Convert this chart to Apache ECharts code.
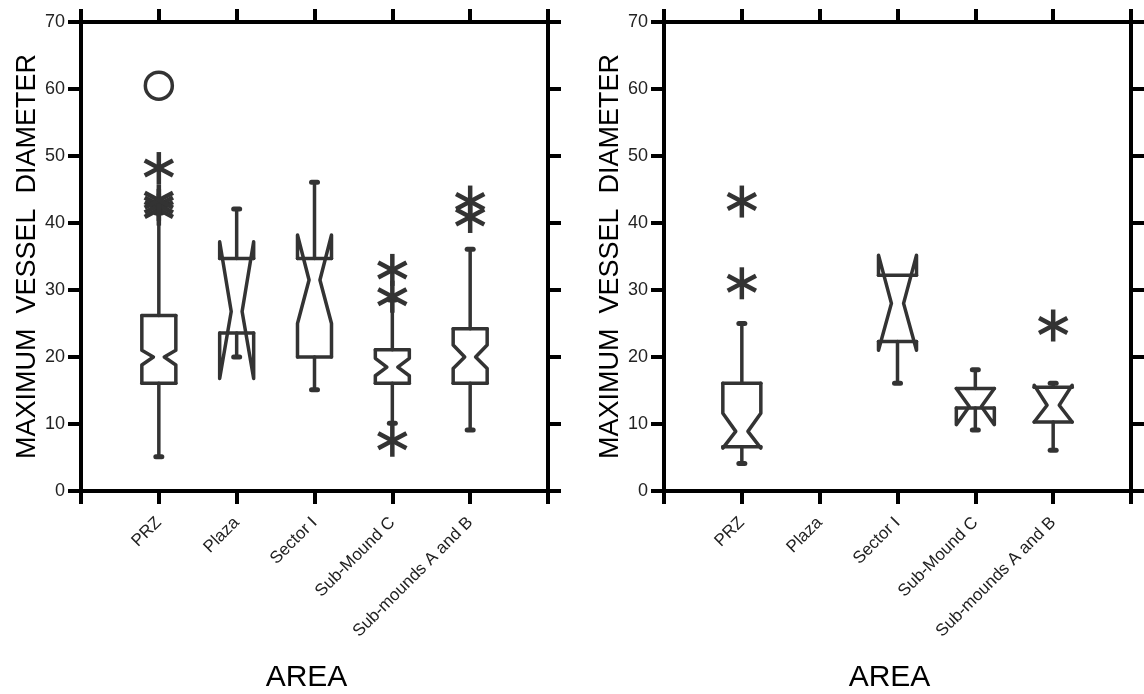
<!DOCTYPE html>
<html>
<head>
<meta charset="utf-8">
<title>Maximum vessel diameter by area</title>
<script src="https://cdn.jsdelivr.net/npm/echarts@6/dist/echarts.min.js"></script>
<style>
  html, body { margin: 0; padding: 0; background: #fff; }
  #chart { width: 1144px; height: 694px; }
</style>
</head>
<body>
<div id="chart"></div>
<script>
// Areas along the x axis (positions 1..5; 0 and 6 are empty margins)
const categories = ['PRZ', 'Plaza', 'Sector I', 'Sub-Mound C', 'Sub-mounds A and B'];
const yMin = 0, yMax = 70, yStep = 10;

// Left panel: notched box statistics per area
const leftWhiskerLow  = [5.1, 20.0, 15.1, 10.1, 9.1];
const leftQ1          = [16.1, 23.6, 20.0, 16.1, 16.1];
const leftNotchLow    = [18.8, 16.8, 25.0, 17.2, 18.3];
const leftMedian      = [20.0, 26.8, 31.5, 18.5, 20.0];
const leftNotchHigh   = [21.0, 37.2, 38.2, 19.8, 21.8];
const leftQ3          = [26.2, 34.7, 34.7, 21.1, 24.2];
const leftWhiskerHigh = [41.5, 42.1, 46.1, 28.5, 36.1];
const leftOutliers    = [[1, 42.0], [1, 42.7], [1, 43.4], [1, 48.2], [4, 33.0], [4, 29.0], [4, 7.5], [5, 40.9], [5, 43.2]];
const leftFarOutliers = [[1, 60.5]];

// Right panel: notched box statistics per area (no Plaza data)
const rightWhiskerLow  = [4.1, null, 16.1, 9.1, 6.1];
const rightQ1          = [6.6, null, 22.3, 12.4, 10.3];
const rightNotchLow    = [6.4, null, 21.0, 9.9, 10.3];
const rightMedian      = [8.9, null, 28.0, 12.6, 12.8];
const rightNotchHigh   = [11.6, null, 35.2, 15.3, 15.8];
const rightQ3          = [16.1, null, 32.2, 15.3, 15.5];
const rightWhiskerHigh = [25.0, null, 32.2, 18.1, 16.1];
const rightOutliers    = [[1, 43.2], [1, 31.0], [5, 24.7]];
const rightFarOutliers = [];

const INK = '#333333';
const AXIS = '#000000';
const SANS = 'Liberation Sans, Arial, sans-serif';

function boxRows(wLo, q1, nLo, med, nHi, q3, wHi) {
  const rows = [];
  for (let i = 0; i < categories.length; i++) {
    if (med[i] == null) continue;
    rows.push([i + 1, wLo[i], q1[i], nLo[i], med[i], nHi[i], q3[i], wHi[i]]);
  }
  return rows;
}

// Notched box: box edges, notch outline, whiskers with round caps
function notchedBox(halfW) {
  return function (params, api) {
    const x = api.value(0);
    const px = api.coord([x, 0])[0];
    const py = d => api.coord([x, api.value(d)])[1];
    const yWLo = py(1), yQ1 = py(2), yNLo = py(3), yMed = py(4), yNHi = py(5), yQ3 = py(6), yWHi = py(7);
    const L = px - halfW, R = px + halfW;
    const waist = halfW * 0.32;
    const cL = px - waist, cR = px + waist;
    const st = { stroke: INK, lineWidth: 3.5, fill: 'none', lineJoin: 'round', lineCap: 'round' };
    const kids = [
      { type: 'polyline', shape: { points: [[L, yQ3], [L, yNHi], [cL, yMed], [L, yNLo], [L, yQ1]] }, style: st },
      { type: 'polyline', shape: { points: [[R, yQ3], [R, yNHi], [cR, yMed], [R, yNLo], [R, yQ1]] }, style: st },
      { type: 'line', shape: { x1: L, y1: yQ3, x2: R, y2: yQ3 }, style: st },
      { type: 'line', shape: { x1: L, y1: yQ1, x2: R, y2: yQ1 }, style: st }
    ];
    const capSt = { stroke: INK, lineWidth: 5, lineCap: 'round' };
    if (api.value(7) > api.value(6)) {
      kids.push({ type: 'line', shape: { x1: px, y1: yQ3, x2: px, y2: yWHi }, style: st });
      kids.push({ type: 'line', shape: { x1: px - 3, y1: yWHi, x2: px + 3, y2: yWHi }, style: capSt });
    }
    if (api.value(1) < api.value(2)) {
      kids.push({ type: 'line', shape: { x1: px, y1: yQ1, x2: px, y2: yWLo }, style: st });
      kids.push({ type: 'line', shape: { x1: px - 3, y1: yWLo, x2: px + 3, y2: yWLo }, style: capSt });
    }
    return { type: 'group', children: kids };
  };
}

// Outside values drawn as six-armed asterisks
function asterisk(params, api) {
  const c = api.coord([api.value(0), api.value(1)]);
  const r = 16;
  const kids = [90, 28, -28].map(a => {
    const rad = a * Math.PI / 180;
    const dx = r * Math.cos(rad), dy = r * Math.sin(rad);
    return { type: 'line', shape: { x1: c[0] - dx, y1: c[1] + dy, x2: c[0] + dx, y2: c[1] - dy },
             style: { stroke: INK, lineWidth: 4.5, lineCap: 'butt' } };
  });
  return { type: 'group', children: kids };
}

// Far outside values drawn as open circles
function ring(params, api) {
  const c = api.coord([api.value(0), api.value(1)]);
  return { type: 'circle', shape: { cx: c[0], cy: c[1], r: 13.5 },
           style: { stroke: INK, lineWidth: 3.5, fill: 'none' } };
}

const tickStyle = { lineStyle: { color: AXIS, width: 4 } };

function bottomAxis(grid) {
  return {
    type: 'value', gridIndex: grid, position: 'bottom', min: 0, max: 6, interval: 1,
    axisLine: { onZero: false, lineStyle: { color: AXIS, width: 4 } },
    axisTick: Object.assign({ inside: false, length: 13 }, tickStyle),
    axisLabel: {
      rotate: 45, margin: 29, fontSize: 17, color: '#222', fontFamily: SANS,
      padding: [31, 0, 0, 0],
      formatter: v => categories[v - 1] || ''
    },
    splitLine: { show: false },
    name: 'AREA', nameLocation: 'middle', nameGap: 172,
    nameTextStyle: { fontSize: 30, color: '#000', fontFamily: SANS, padding: [0, 16, 0, 0] }
  };
}
function topAxis(grid) {
  return {
    type: 'value', gridIndex: grid, position: 'top', min: 0, max: 6, interval: 1,
    axisLine: { onZero: false, lineStyle: { color: AXIS, width: 4 } },
    axisTick: Object.assign({ inside: false, length: 13 }, tickStyle),
    axisLabel: { show: false }, splitLine: { show: false }
  };
}
function leftAxis(grid) {
  return {
    type: 'value', gridIndex: grid, position: 'left', min: yMin, max: yMax, interval: yStep,
    axisLine: { show: true, onZero: false, lineStyle: { color: AXIS, width: 4 } },
    axisTick: Object.assign({ show: true, inside: false, length: 13 }, tickStyle),
    axisLabel: { margin: 16, fontSize: 18, color: '#222', fontFamily: SANS },
    splitLine: { show: false },
    name: 'MAXIMUM  VESSEL  DIAMETER', nameLocation: 'middle', nameGap: 35,
    nameTextStyle: { fontSize: 27, color: '#000', fontFamily: SANS }
  };
}
function rightAxis(grid) {
  return {
    type: 'value', gridIndex: grid, position: 'right', min: yMin, max: yMax, interval: yStep,
    axisLine: { show: true, onZero: false, lineStyle: { color: AXIS, width: 4 } },
    axisTick: Object.assign({ show: true, inside: false, length: 13 }, tickStyle),
    axisLabel: { show: false }, splitLine: { show: false }
  };
}

const chart = echarts.init(document.getElementById('chart'), null, { renderer: 'canvas' });
chart.setOption({
  animation: false,
  backgroundColor: '#fff',
  grid: [
    { left: 81, right: 596, top: 22, bottom: 203, containLabel: false, outerBoundsMode: 'none' },
    { left: 664, right: 13, top: 22, bottom: 203, containLabel: false, outerBoundsMode: 'none' }
  ],
  xAxis: [bottomAxis(0), topAxis(0), bottomAxis(1), topAxis(1)],
  yAxis: [leftAxis(0), rightAxis(0), leftAxis(1), rightAxis(1)],
  series: [
    { type: 'custom', xAxisIndex: 0, yAxisIndex: 0, renderItem: notchedBox(17),
      encode: { x: 0, y: [1, 2, 3, 4, 5, 6, 7] },
      data: boxRows(leftWhiskerLow, leftQ1, leftNotchLow, leftMedian, leftNotchHigh, leftQ3, leftWhiskerHigh) },
    { type: 'custom', xAxisIndex: 0, yAxisIndex: 0, renderItem: asterisk, encode: { x: 0, y: 1 }, data: leftOutliers },
    { type: 'custom', xAxisIndex: 0, yAxisIndex: 0, renderItem: ring, encode: { x: 0, y: 1 }, data: leftFarOutliers },
    { type: 'custom', xAxisIndex: 2, yAxisIndex: 2, renderItem: notchedBox(19),
      encode: { x: 0, y: [1, 2, 3, 4, 5, 6, 7] },
      data: boxRows(rightWhiskerLow, rightQ1, rightNotchLow, rightMedian, rightNotchHigh, rightQ3, rightWhiskerHigh) },
    { type: 'custom', xAxisIndex: 2, yAxisIndex: 2, renderItem: asterisk, encode: { x: 0, y: 1 }, data: rightOutliers },
    { type: 'custom', xAxisIndex: 2, yAxisIndex: 2, renderItem: ring, encode: { x: 0, y: 1 }, data: rightFarOutliers }
  ]
});
</script>
</body>
</html>
